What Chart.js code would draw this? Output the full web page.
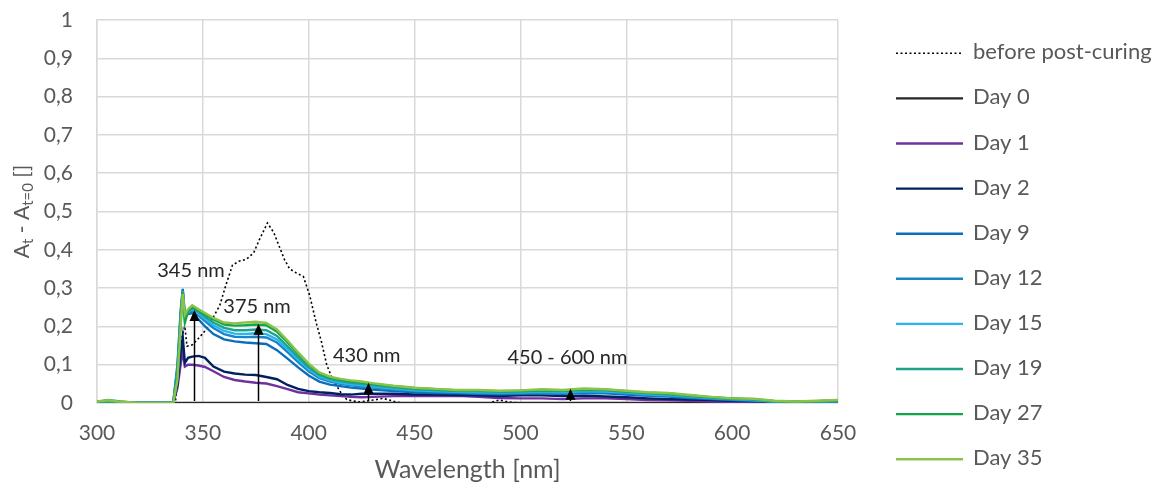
<!DOCTYPE html>
<html>
<head>
<meta charset="utf-8">
<script src="https://cdn.jsdelivr.net/npm/chart.js@4.4.1/dist/chart.umd.min.js"></script>
<style>
  html, body { margin: 0; padding: 0; background: #ffffff; }
  #wrap { width: 1156px; height: 486px; }
</style>
</head>
<body>
<div id="wrap"><canvas id="chart" width="1156" height="486"></canvas></div>
<script>
// Wavelength grid shared by the daily difference spectra (nm)
const wavelengths = [300, 305, 310, 315, 320, 336, 338, 339.5, 340.5, 341.5, 343, 345, 348, 351, 355, 360, 365, 370, 375, 380, 385, 390, 395, 400, 405, 410, 415, 420, 425, 430, 440, 450, 460, 470, 480, 490, 500, 510, 520, 530, 540, 550, 560, 570, 580, 590, 600, 610, 620, 630, 640, 650];

// A_t - A_t=0 for each measurement day
const day0  = [0, 0, 0, 0, 0, 0, 0, 0, 0, 0, 0, 0, 0, 0, 0, 0, 0, 0, 0, 0, 0, 0, 0, 0, 0, 0, 0, 0, 0, 0, 0, 0, 0, 0, 0, 0, 0, 0, 0, 0, 0, 0, 0, 0, 0, 0, 0, 0, 0, 0, 0, 0];
const day1  = [0.001, 0.001, 0, 0, 0, 0, 0.04, 0.1, 0.135, 0.095, 0.1, 0.1, 0.098, 0.094, 0.083, 0.068, 0.06, 0.056, 0.053, 0.051, 0.044, 0.036, 0.028, 0.025, 0.022, 0.02, 0.018, 0.016, 0.015, 0.016, 0.018, 0.018, 0.018, 0.019, 0.016, 0.013, 0.012, 0.012, 0.01, 0.012, 0.012, 0.01, 0.008, 0.007, 0.006, 0.004, 0.003, 0.002, 0.002, 0.002, 0.003, 0.003];
const day2  = [0.002, 0.001, 0.001, 0, 0, 0, 0.05, 0.13, 0.172, 0.105, 0.118, 0.121, 0.123, 0.118, 0.095, 0.082, 0.077, 0.074, 0.073, 0.068, 0.062, 0.047, 0.037, 0.031, 0.028, 0.026, 0.023, 0.022, 0.024, 0.024, 0.024, 0.022, 0.022, 0.021, 0.02, 0.018, 0.02, 0.02, 0.018, 0.019, 0.017, 0.015, 0.012, 0.01, 0.009, 0.008, 0.006, 0.005, 0.004, 0.004, 0.005, 0.006];
const day9  = [0.005, 0.003, 0.002, 0.001, 0, 0, 0.1, 0.24, 0.298, 0.23, 0.232, 0.235, 0.218, 0.2, 0.18, 0.166, 0.161, 0.158, 0.156, 0.154, 0.138, 0.116, 0.093, 0.072, 0.056, 0.048, 0.044, 0.04, 0.038, 0.035, 0.031, 0.028, 0.026, 0.025, 0.024, 0.023, 0.024, 0.025, 0.024, 0.026, 0.025, 0.022, 0.019, 0.017, 0.013, 0.01, 0.008, 0.006, 0.003, 0.003, 0.003, 0.004];
const day12 = [0.004, 0.003, 0.002, 0.001, 0, 0, 0.09, 0.23, 0.295, 0.228, 0.235, 0.24, 0.228, 0.214, 0.196, 0.18, 0.173, 0.172, 0.173, 0.171, 0.158, 0.133, 0.107, 0.083, 0.065, 0.056, 0.05, 0.046, 0.043, 0.04, 0.035, 0.031, 0.029, 0.027, 0.026, 0.025, 0.026, 0.027, 0.026, 0.028, 0.028, 0.025, 0.021, 0.019, 0.015, 0.012, 0.009, 0.007, 0.004, 0.003, 0.003, 0.005];
const day15 = [0.003, 0.003, 0.002, 0.001, 0, 0, 0.08, 0.22, 0.292, 0.225, 0.238, 0.245, 0.233, 0.22, 0.203, 0.188, 0.181, 0.18, 0.182, 0.18, 0.166, 0.14, 0.113, 0.088, 0.069, 0.059, 0.053, 0.049, 0.046, 0.043, 0.038, 0.033, 0.031, 0.029, 0.028, 0.027, 0.028, 0.029, 0.028, 0.031, 0.03, 0.027, 0.023, 0.021, 0.017, 0.013, 0.01, 0.008, 0.004, 0.003, 0.004, 0.005];
const day19 = [0.002, 0.004, 0.003, 0.001, 0, 0, 0.08, 0.22, 0.29, 0.22, 0.24, 0.248, 0.238, 0.226, 0.21, 0.196, 0.19, 0.19, 0.192, 0.19, 0.175, 0.148, 0.12, 0.093, 0.073, 0.063, 0.057, 0.053, 0.05, 0.047, 0.041, 0.036, 0.034, 0.031, 0.031, 0.029, 0.03, 0.032, 0.031, 0.034, 0.033, 0.029, 0.025, 0.023, 0.018, 0.014, 0.011, 0.009, 0.005, 0.004, 0.004, 0.006];
const day27 = [0.003, 0.008, 0.005, 0.002, 0, 0, 0.07, 0.21, 0.29, 0.21, 0.24, 0.25, 0.242, 0.232, 0.218, 0.205, 0.202, 0.203, 0.205, 0.203, 0.186, 0.158, 0.128, 0.1, 0.078, 0.067, 0.061, 0.057, 0.054, 0.05, 0.044, 0.039, 0.036, 0.033, 0.033, 0.031, 0.032, 0.034, 0.033, 0.036, 0.035, 0.031, 0.027, 0.025, 0.02, 0.015, 0.012, 0.01, 0.005, 0.004, 0.005, 0.007];
const day35 = [0.004, 0.007, 0.004, 0.002, 0, 0, 0.06, 0.2, 0.285, 0.23, 0.245, 0.255, 0.245, 0.235, 0.222, 0.21, 0.208, 0.21, 0.212, 0.209, 0.192, 0.163, 0.132, 0.103, 0.08, 0.069, 0.063, 0.059, 0.056, 0.052, 0.045, 0.04, 0.037, 0.034, 0.034, 0.032, 0.033, 0.036, 0.034, 0.038, 0.036, 0.032, 0.028, 0.026, 0.021, 0.016, 0.012, 0.011, 0.006, 0.004, 0.006, 0.008];

// Spectrum recorded before post-curing (own wavelength grid)
const beforeWavelengths = [300, 337, 340, 341.5, 342.5, 345, 348.5, 352, 355, 358, 361, 364, 367, 370.5, 374, 377, 380.5, 383.5, 386, 388.5, 391, 394, 397.5, 400.5, 403.5, 406, 408.5, 411, 413.5, 416, 418, 421, 424, 427, 431, 435, 438, 441, 445, 450, 485, 490, 493, 496, 500, 650];
const beforeValues = [0, 0, 0.17, 0.2, 0.148, 0.152, 0.172, 0.195, 0.225, 0.255, 0.31, 0.36, 0.37, 0.375, 0.392, 0.43, 0.47, 0.445, 0.41, 0.375, 0.35, 0.34, 0.33, 0.28, 0.21, 0.16, 0.1, 0.065, 0.042, 0.02, 0.009, 0.005, 0.003, 0.005, 0.008, 0.012, 0.008, 0.003, 0, 0, 0, 0.008, 0.004, 0.002, 0, 0];

const seriesNames = ['before post-curing', 'Day 0', 'Day 1', 'Day 2', 'Day 9', 'Day 12', 'Day 15', 'Day 19', 'Day 27', 'Day 35'];
const dailySeries = [day0, day1, day2, day9, day12, day15, day19, day27, day35];

// Axis ticks
const xTicks = [300, 350, 400, 450, 500, 550, 600, 650];
const yTicks = [0, 0.1, 0.2, 0.3, 0.4, 0.5, 0.6, 0.7, 0.8, 0.9, 1];

// Marked absorption bands: label text, arrow wavelength and arrow tip value
const bandLabels = ['345 nm', '375 nm', '430 nm', '450 - 600 nm'];
const bandArrowAt = [346, 376.2, 428.2, 523.4];
const bandArrowTip = [0.243, 0.207, 0.053, 0.037];

// ---- styling ----
const seriesColors = ['#000000', '#262626', '#7030A0', '#002060', '#0A6EBD', '#1A85C6', '#29B6F0', '#1FA38A', '#13A54E', '#8BC34A'];
const textGray = '#595959';
const fontFamily = 'Lato, "Open Sans", sans-serif';
const bandLabelAnchors = [[344.4, 0.345], [375.6, 0.251], [427.4, 0.125], [522.2, 0.118]];

const toPoints = (xs, ys) => xs.map((x, i) => ({ x: x, y: ys[i] }));

const datasets = [];
datasets.push({
  label: seriesNames[0],
  data: toPoints(beforeWavelengths, beforeValues),
  borderColor: seriesColors[0],
  borderWidth: 1.6,
  borderDash: [2, 2.5],
  order: seriesNames.length - 1
});
dailySeries.forEach((vals, i) => {
  datasets.push({
    label: seriesNames[i + 1],
    data: toPoints(wavelengths, vals),
    borderColor: seriesColors[i + 1],
    borderWidth: 2.4,
    order: seriesNames.length - 2 - i
  });
});

const fmtY = v => (v === 0 ? '0' : v === 1 ? '1' : v.toFixed(1).replace('.', ','));

const decorations = {
  id: 'decorations',
  afterDatasetsDraw(chart) {
    const { ctx } = chart;
    const xs = chart.scales.x, ys = chart.scales.y;
    ctx.save();
    // arrows
    ctx.strokeStyle = '#000';
    ctx.fillStyle = '#000';
    ctx.lineWidth = 1.5;
    bandArrowAt.forEach((w, i) => {
      const px = Math.round(xs.getPixelForValue(w)) + 0.5;
      const yBase = ys.getPixelForValue(0) - 2;
      const yTip = ys.getPixelForValue(bandArrowTip[i]);
      ctx.beginPath();
      ctx.moveTo(px, yBase);
      ctx.lineTo(px, yTip + 8);
      ctx.stroke();
      ctx.beginPath();
      ctx.moveTo(px, yTip);
      ctx.lineTo(px - 5, yTip + 11);
      ctx.lineTo(px + 5, yTip + 11);
      ctx.closePath();
      ctx.fill();
    });
    // band labels
    ctx.fillStyle = '#262626';
    ctx.font = '20px ' + fontFamily;
    ctx.textAlign = 'center';
    ctx.textBaseline = 'middle';
    bandLabels.forEach((t, i) => {
      const a = bandLabelAnchors[i];
      ctx.fillText(t, xs.getPixelForValue(a[0]), ys.getPixelForValue(a[1]));
    });
    ctx.restore();
  },
  afterDraw(chart) {
    const { ctx, chartArea } = chart;
    ctx.save();
    ctx.fillStyle = textGray;

    // x axis title
    ctx.font = '25px ' + fontFamily;
    ctx.textAlign = 'center';
    ctx.textBaseline = 'middle';
    ctx.fillText('Wavelength [nm]', (chartArea.left + chartArea.right) / 2, 470);

    // y axis title with subscripts, rotated
    const parts = [['A', false], ['t', true], [' - A', false], ['t=0', true], [' []', false]];
    const mainFont = '21px ' + fontFamily, subFont = '15px ' + fontFamily;
    let total = 0;
    parts.forEach(p => { ctx.font = p[1] ? subFont : mainFont; total += ctx.measureText(p[0]).width; });
    ctx.translate(29, (chartArea.top + chartArea.bottom) / 2);
    ctx.rotate(-Math.PI / 2);
    ctx.textAlign = 'left';
    ctx.textBaseline = 'alphabetic';
    let cx = -total / 2;
    parts.forEach(p => {
      ctx.font = p[1] ? subFont : mainFont;
      ctx.fillText(p[0], cx, p[1] ? 4 : 0);
      cx += ctx.measureText(p[0]).width;
    });
    ctx.setTransform(1, 0, 0, 1, 0, 0);

    // legend
    const rowTop = 53.3, rowStep = 45.1, lineX0 = 896, lineX1 = 963, textX = 973;
    chart.data.datasets.forEach((ds, i) => {
      const yRow = rowTop + i * rowStep;
      ctx.strokeStyle = ds.borderColor;
      ctx.lineWidth = ds.borderWidth;
      ctx.setLineDash(ds.borderDash || []);
      ctx.beginPath();
      ctx.moveTo(lineX0, yRow);
      ctx.lineTo(lineX1, yRow);
      ctx.stroke();
      ctx.setLineDash([]);
      ctx.fillStyle = textGray;
      ctx.font = '22px ' + fontFamily;
      ctx.textAlign = 'left';
      ctx.textBaseline = 'middle';
      ctx.fillText(ds.label, textX, yRow - 1);
    });
    ctx.restore();
  }
};

new Chart(document.getElementById('chart'), {
  type: 'line',
  data: { datasets: datasets },
  options: {
    responsive: false,
    animation: false,
    devicePixelRatio: 1,
    layout: { padding: { left: 0, right: 318, top: 20, bottom: 0 } },
    plugins: { legend: { display: false }, tooltip: { enabled: false } },
    elements: { point: { radius: 0 }, line: { tension: 0 } },
    scales: {
      x: {
        type: 'linear',
        min: 300,
        max: 650,
        afterBuildTicks: s => { s.ticks = xTicks.map(v => ({ value: v })); },
        afterFit: s => { s.height = 83; s.paddingLeft = 0; s.paddingRight = 0; },
        grid: { color: '#D9D9D9', lineWidth: 1.5, drawTicks: false },
        border: { color: '#D9D9D9', width: 1.5 },
        ticks: { color: textGray, font: { family: fontFamily, size: 21 }, padding: 18, maxRotation: 0, autoSkip: false }
      },
      y: {
        type: 'linear',
        min: 0,
        max: 1,
        afterBuildTicks: s => { s.ticks = yTicks.map(v => ({ value: v })); },
        afterFit: s => { s.width = 97; s.paddingTop = 0; s.paddingBottom = 0; },
        grid: { color: '#D9D9D9', lineWidth: 1.5, drawTicks: false },
        border: { color: '#D9D9D9', width: 1.5 },
        ticks: { color: textGray, font: { family: fontFamily, size: 21 }, padding: 24, callback: v => fmtY(v) }
      }
    }
  },
  plugins: [decorations]
});
</script>
</body>
</html>
